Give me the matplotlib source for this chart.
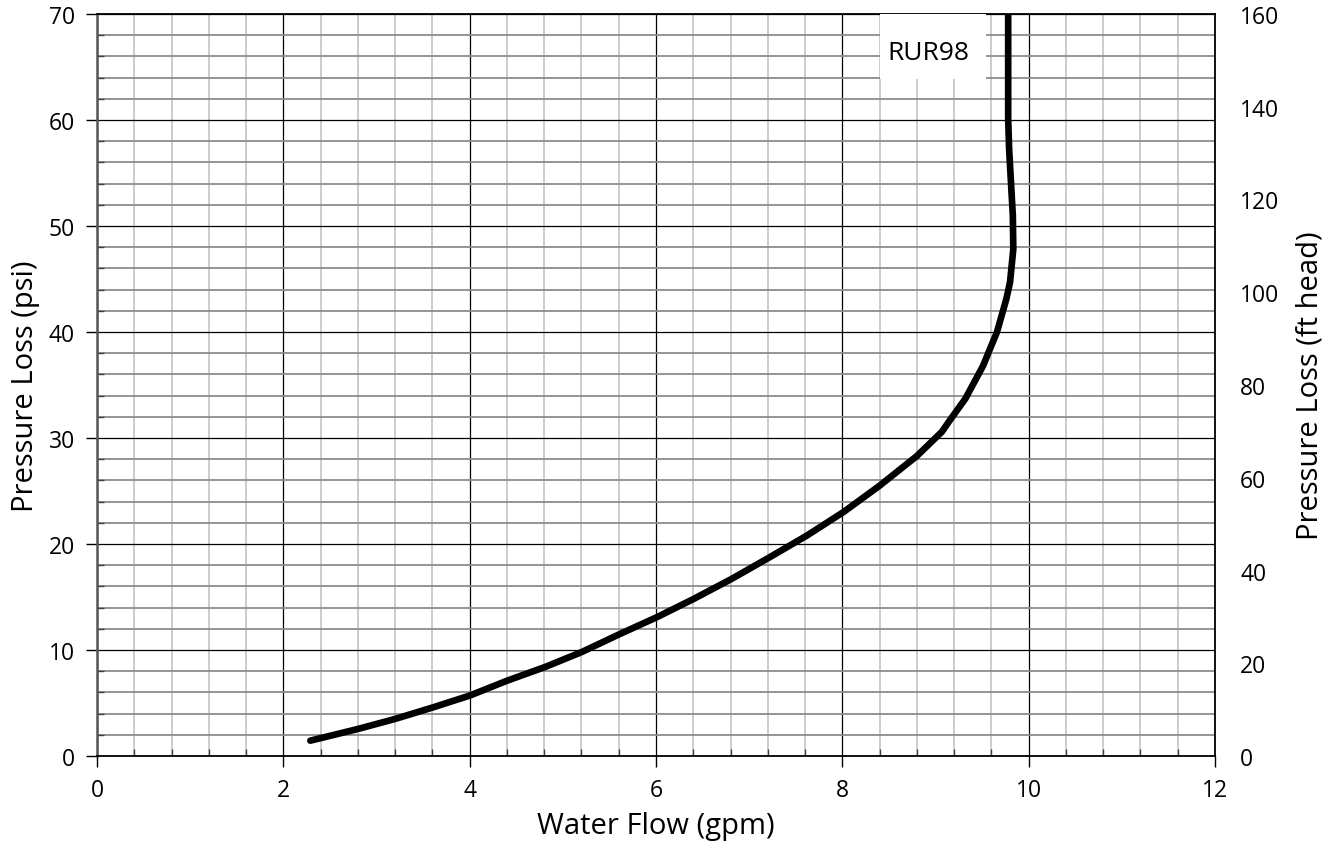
import matplotlib
matplotlib.use("Agg")
import matplotlib.pyplot as plt
from matplotlib.ticker import MultipleLocator
from matplotlib.patches import Rectangle

plt.rcParams['font.family'] = ['Open Sans', 'DejaVu Sans']

flow_gpm = [2.29, 2.80, 3.20, 3.61, 4.00, 4.40, 4.81, 5.20, 5.61, 6.01, 6.40, 6.81,
            7.21, 7.62, 8.01, 8.40, 8.80, 9.07, 9.14, 9.32, 9.51, 9.66, 9.76, 9.80,
            9.835, 9.83, 9.81, 9.79, 9.78, 9.78]
pressure_psi = [1.45, 2.55, 3.5, 4.6, 5.7, 7.1, 8.4, 9.8, 11.5, 13.1, 14.8, 16.7,
                18.7, 20.8, 23.0, 25.5, 28.3, 30.6, 31.5, 33.7, 36.8, 40.0, 43.1, 44.7,
                47.8, 51.0, 54.1, 57.3, 60.1, 70.0]
label_text = "RUR98"

fig = plt.figure(figsize=(13.43, 8.53), dpi=100)
ax = fig.add_axes([0.0722, 0.1125, 0.8325, 0.870])

ax.set_xlim(0, 12)
ax.set_ylim(0, 70)
ax.xaxis.set_major_locator(MultipleLocator(2))
ax.xaxis.set_minor_locator(MultipleLocator(0.4))
ax.yaxis.set_major_locator(MultipleLocator(10))
ax.yaxis.set_minor_locator(MultipleLocator(2))

ax.grid(which='major', color='black', linewidth=0.9, zorder=1)
ax.grid(which='minor', axis='x', color='#c8c8c8', linewidth=1.3, zorder=0)
ax.grid(which='minor', axis='y', color='#8c8c8c', linewidth=1.3, zorder=0)
ax.set_axisbelow(True)

ax.tick_params(which='major', direction='out', length=8, width=1, labelsize=16.5,
               color='black', pad=8)
ax.tick_params(which='minor', direction='in', length=5, width=1, color='#404040')
ax.tick_params(axis='y', which='both', right=False)
for s in ax.spines.values():
    s.set_color('black')
    s.set_linewidth(1.3)
ax.spines['left'].set_color('#555555')
ax.spines['left'].set_linewidth(1.8)

ax.plot(flow_gpm, pressure_psi, color='black', linewidth=4.8,
        solid_capstyle='round', solid_joinstyle='round', zorder=5)

ax.add_patch(Rectangle((8.40, 63.9), 1.14, 6.1, facecolor='white', edgecolor='none', zorder=3))
ax.text(8.92, 66.4, label_text, fontsize=19, ha='center', va='center', zorder=4)

ax.set_xlabel('Water Flow (gpm)', fontsize=21, labelpad=6)
ax.set_ylabel('Pressure Loss (psi)', fontsize=21, labelpad=6)

ax2 = ax.twinx()
ax2.set_ylim(0, 160)
ax2.yaxis.set_major_locator(MultipleLocator(20))
ax2.tick_params(axis='y', length=0, labelsize=16.5, pad=18)
ax2.set_ylabel('Pressure Loss (ft head)', fontsize=21, labelpad=12)
for s in ax2.spines.values():
    s.set_visible(False)

fig.savefig('out.png', dpi=100)
